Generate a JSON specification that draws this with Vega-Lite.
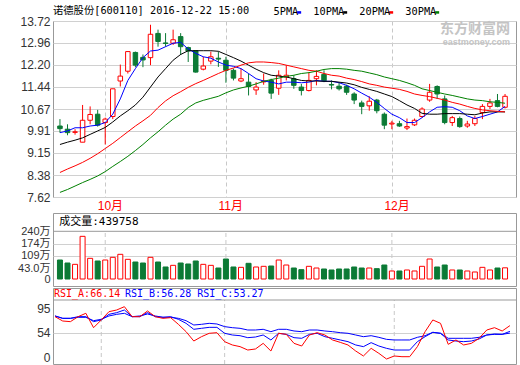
{
  "$schema": "https://vega.github.io/schema/vega-lite/v6.json",
  "background": "white",
  "padding": {"left": 17, "top": 5, "right": 0, "bottom": 0},
  "spacing": 0,
  "config": {
    "view": {"stroke": "#999999", "strokeWidth": 1},
    "axis": {"labelFont": "Liberation Sans, Noto Sans CJK SC", "labelFontSize": 12, "labelColor": "#333333", "ticks": false, "domain": false, "gridColor": "#d0d0d0", "labelPadding": 3, "labelFlush": false, "labelOverlap": false, "tickCount": 30, "title": null}
  },
  "datasets": {
    "k": [
      {"i":0,"d":"09-23","o":10.08,"h":10.32,"l":9.85,"c":9.99,"v":85.9,"m5":9.85,"m10":9.44,"m20":8.47,"m30":7.78,"ra":81.6,"rb":82.8,"rc":82.8},
      {"i":1,"d":"09-26","o":9.97,"h":10.14,"l":9.76,"c":9.85,"v":69.8,"m5":9.91,"m10":9.52,"m20":8.59,"m30":7.88,"ra":74.1,"rb":78.7,"rc":78.7},
      {"i":2,"d":"09-27","o":9.86,"h":9.97,"l":9.78,"c":9.88,"v":62.7,"m5":10.02,"m10":9.59,"m20":8.70,"m30":8.00,"ra":73.0,"rb":78.7,"rc":78.7},
      {"i":3,"d":"09-28","o":9.52,"h":10.81,"l":9.52,"c":10.28,"v":213,"m5":10.02,"m10":9.67,"m20":8.82,"m30":8.12,"ra":81.6,"rb":81.6,"rc":80.5},
      {"i":4,"d":"09-29","o":10.28,"h":10.76,"l":10.14,"c":10.48,"v":94.9,"m5":10.08,"m10":9.79,"m20":8.96,"m30":8.23,"ra":87.4,"rb":81.6,"rc":80.5},
      {"i":5,"d":"09-30","o":10.49,"h":10.64,"l":10.06,"c":10.11,"v":80.6,"m5":10.11,"m10":9.91,"m20":9.12,"m30":8.35,"ra":62.6,"rb":73.0,"rc":74.7},
      {"i":6,"d":"10-10","o":10.20,"h":10.37,"l":9.44,"c":10.32,"v":85.9,"m5":10.20,"m10":10.03,"m20":9.30,"m30":8.50,"ra":75.9,"rb":75.9,"rc":77.0},
      {"i":7,"d":"10-11","o":10.41,"h":11.37,"l":10.32,"c":11.37,"v":100.3,"m5":10.49,"m10":10.22,"m20":9.48,"m30":8.68,"ra":90.2,"rb":85.6,"rc":82.8},
      {"i":8,"d":"10-12","o":11.64,"h":12.21,"l":11.45,"c":11.81,"v":116.4,"m5":11.02,"m10":10.43,"m20":9.68,"m30":8.85,"ra":93.1,"rb":88.5,"rc":85.6},
      {"i":9,"d":"10-13","o":11.98,"h":12.68,"l":11.90,"c":12.66,"v":89.5,"m5":11.66,"m10":10.61,"m20":9.88,"m30":9.03,"ra":98.8,"rb":93.1,"rc":87.4},
      {"i":10,"d":"10-14","o":12.63,"h":12.66,"l":12.12,"c":12.19,"v":75.2,"m5":12.07,"m10":10.81,"m20":10.08,"m30":9.23,"ra":81.6,"rb":81.6,"rc":81.6},
      {"i":11,"d":"10-17","o":12.46,"h":12.56,"l":12.12,"c":12.37,"v":69.8,"m5":12.45,"m10":11.08,"m20":10.26,"m30":9.44,"ra":81.6,"rb":81.6,"rc":82.8},
      {"i":12,"d":"10-18","o":12.45,"h":13.59,"l":12.19,"c":13.26,"v":100.3,"m5":12.68,"m10":11.43,"m20":10.45,"m30":9.67,"ra":91.4,"rb":88.5,"rc":86.2},
      {"i":13,"d":"10-19","o":13.29,"h":13.42,"l":12.83,"c":13.01,"v":75.2,"m5":12.71,"m10":11.78,"m20":10.72,"m30":9.88,"ra":81.6,"rb":81.6,"rc":82.8},
      {"i":14,"d":"10-20","o":12.96,"h":13.30,"l":12.83,"c":12.94,"v":48.4,"m5":12.83,"m10":12.07,"m20":10.95,"m30":10.11,"ra":78.7,"rb":80.5,"rc":80.5},
      {"i":15,"d":"10-21","o":12.95,"h":13.42,"l":12.89,"c":13.07,"v":57.3,"m5":12.95,"m10":12.36,"m20":11.13,"m30":10.32,"ra":79.9,"rb":81.6,"rc":80.5},
      {"i":16,"d":"10-24","o":13.18,"h":13.30,"l":12.54,"c":12.83,"v":69.8,"m5":12.98,"m10":12.56,"m20":11.27,"m30":10.49,"ra":68.4,"rb":77.0,"rc":78.7},
      {"i":17,"d":"10-25","o":12.80,"h":12.83,"l":12.30,"c":12.68,"v":64.5,"m5":12.75,"m10":12.69,"m20":11.42,"m30":10.72,"ra":55.7,"rb":70.1,"rc":74.7},
      {"i":18,"d":"10-26","o":12.69,"h":12.71,"l":11.93,"c":11.95,"v":80.6,"m5":12.60,"m10":12.69,"m20":11.55,"m30":10.88,"ra":39.6,"rb":59.8,"rc":67.2},
      {"i":19,"d":"10-27","o":12.05,"h":12.48,"l":12.01,"c":12.16,"v":62.7,"m5":12.48,"m10":12.69,"m20":11.66,"m30":10.97,"ra":47.1,"rb":61.5,"rc":68.4},
      {"i":20,"d":"10-28","o":12.33,"h":12.66,"l":12.22,"c":12.48,"v":57.3,"m5":12.43,"m10":12.69,"m20":11.78,"m30":11.04,"ra":52.9,"rb":63.2,"rc":70.1},
      {"i":21,"d":"10-31","o":12.43,"h":12.66,"l":12.13,"c":12.40,"v":43,"m5":12.30,"m10":12.67,"m20":11.90,"m30":11.11,"ra":54.0,"rb":63.2,"rc":69.0},
      {"i":22,"d":"11-01","o":12.36,"h":12.48,"l":11.58,"c":12.01,"v":91.3,"m5":12.19,"m10":12.56,"m20":12.01,"m30":11.23,"ra":38.5,"rb":52.9,"rc":64.4},
      {"i":23,"d":"11-02","o":12.01,"h":12.07,"l":11.66,"c":11.74,"v":48.4,"m5":12.15,"m10":12.45,"m20":12.09,"m30":11.33,"ra":32.8,"rb":50.0,"rc":62.6},
      {"i":24,"d":"11-03","o":11.64,"h":12.07,"l":11.60,"c":11.72,"v":46.6,"m5":12.07,"m10":12.33,"m20":12.19,"m30":11.40,"ra":29.9,"rb":48.8,"rc":61.5},
      {"i":25,"d":"11-04","o":11.60,"h":11.90,"l":11.14,"c":11.45,"v":68.1,"m5":11.90,"m10":12.19,"m20":12.27,"m30":11.46,"ra":24.1,"rb":45.4,"rc":58.6},
      {"i":26,"d":"11-07","o":11.33,"h":11.60,"l":11.16,"c":11.43,"v":48.4,"m5":11.72,"m10":12.05,"m20":12.30,"m30":11.54,"ra":25.9,"rb":46.5,"rc":58.6},
      {"i":27,"d":"11-08","o":11.61,"h":11.90,"l":11.51,"c":11.64,"v":52.0,"m5":11.64,"m10":11.93,"m20":12.30,"m30":11.63,"ra":35.6,"rb":50.0,"rc":59.8},
      {"i":28,"d":"11-09","o":11.66,"h":11.72,"l":11.02,"c":11.22,"v":53.7,"m5":11.60,"m10":11.84,"m20":12.28,"m30":11.69,"ra":22.4,"rb":41.4,"rc":55.7},
      {"i":29,"d":"11-10","o":11.39,"h":12.01,"l":11.16,"c":11.84,"v":85.9,"m5":11.54,"m10":11.81,"m20":12.25,"m30":11.74,"ra":52.9,"rb":52.9,"rc":59.8},
      {"i":30,"d":"11-11","o":11.78,"h":12.19,"l":11.66,"c":11.84,"v":59.1,"m5":11.60,"m10":11.78,"m20":12.19,"m30":11.80,"ra":51.1,"rb":51.1,"rc":59.8},
      {"i":31,"d":"11-14","o":11.72,"h":11.84,"l":11.37,"c":11.49,"v":43,"m5":11.60,"m10":11.72,"m20":12.13,"m30":11.84,"ra":35.6,"rb":45.4,"rc":56.9},
      {"i":32,"d":"11-15","o":11.43,"h":11.54,"l":11.14,"c":11.31,"v":36.5,"m5":11.58,"m10":11.66,"m20":12.07,"m30":11.90,"ra":31.0,"rb":44.3,"rc":55.7},
      {"i":33,"d":"11-16","o":11.31,"h":11.95,"l":11.28,"c":11.66,"v":52.0,"m5":11.60,"m10":11.64,"m20":12.01,"m30":11.93,"ra":50.0,"rb":51.1,"rc":58.6},
      {"i":34,"d":"11-17","o":11.72,"h":12.01,"l":11.49,"c":11.80,"v":43,"m5":11.66,"m10":11.64,"m20":11.98,"m30":11.98,"ra":54.0,"rb":52.9,"rc":58.6},
      {"i":35,"d":"11-18","o":11.87,"h":12.01,"l":11.60,"c":11.65,"v":39.1,"m5":11.63,"m10":11.63,"m20":11.90,"m30":12.04,"ra":50.0,"rb":47.1,"rc":56.9},
      {"i":36,"d":"11-21","o":11.52,"h":11.66,"l":11.35,"c":11.50,"v":35.2,"m5":11.63,"m10":11.63,"m20":11.84,"m30":12.07,"ra":41.4,"rb":44.3,"rc":55.7},
      {"i":37,"d":"11-22","o":11.46,"h":11.60,"l":11.31,"c":11.37,"v":39.1,"m5":11.58,"m10":11.60,"m20":11.81,"m30":12.07,"ra":37.3,"rb":41.4,"rc":54.0},
      {"i":38,"d":"11-23","o":11.46,"h":11.51,"l":11.16,"c":11.25,"v":39.1,"m5":11.49,"m10":11.57,"m20":11.74,"m30":12.05,"ra":32.8,"rb":38.5,"rc":52.9},
      {"i":39,"d":"11-24","o":11.19,"h":11.25,"l":10.84,"c":10.98,"v":48.4,"m5":11.37,"m10":11.51,"m20":11.69,"m30":12.01,"ra":22.4,"rb":32.8,"rc":50.0},
      {"i":40,"d":"11-25","o":10.88,"h":10.96,"l":10.49,"c":10.76,"v":43,"m5":11.22,"m10":11.42,"m20":11.62,"m30":11.98,"ra":13.8,"rb":29.9,"rc":47.1},
      {"i":41,"d":"11-28","o":10.78,"h":11.11,"l":10.61,"c":10.94,"v":43,"m5":11.08,"m10":11.35,"m20":11.54,"m30":11.92,"ra":27.0,"rb":36.8,"rc":48.8},
      {"i":42,"d":"11-29","o":10.98,"h":11.02,"l":10.52,"c":10.61,"v":40.4,"m5":10.90,"m10":11.28,"m20":11.49,"m30":11.86,"ra":18.4,"rb":31.0,"rc":46.0},
      {"i":43,"d":"11-30","o":10.49,"h":10.55,"l":9.97,"c":10.11,"v":59.1,"m5":10.69,"m10":11.19,"m20":11.43,"m30":11.78,"ra":8.6,"rb":27.0,"rc":42.5},
      {"i":44,"d":"12-01","o":10.15,"h":10.26,"l":9.97,"c":10.18,"v":31.3,"m5":10.49,"m10":11.10,"m20":11.39,"m30":11.72,"ra":13.8,"rb":24.1,"rc":41.4},
      {"i":45,"d":"12-02","o":10.16,"h":10.26,"l":10.05,"c":10.08,"v":31.3,"m5":10.37,"m10":10.96,"m20":11.35,"m30":11.66,"ra":12.6,"rb":24.1,"rc":41.4},
      {"i":46,"d":"12-05","o":10.01,"h":10.34,"l":9.94,"c":10.06,"v":35.2,"m5":10.20,"m10":10.81,"m20":11.28,"m30":11.58,"ra":12.6,"rb":24.1,"rc":41.4},
      {"i":47,"d":"12-06","o":10.12,"h":10.34,"l":10.08,"c":10.28,"v":31.3,"m5":10.20,"m10":10.69,"m20":11.19,"m30":11.49,"ra":29.9,"rb":38.5,"rc":46.0},
      {"i":48,"d":"12-07","o":10.41,"h":10.73,"l":10.37,"c":10.67,"v":52.0,"m5":10.37,"m10":10.52,"m20":11.14,"m30":11.37,"ra":55.7,"rb":47.1,"rc":48.8},
      {"i":49,"d":"12-08","o":10.98,"h":11.54,"l":10.92,"c":11.25,"v":91.3,"m5":10.57,"m10":10.49,"m20":11.10,"m30":11.31,"ra":75.9,"rb":54.6,"rc":54.6},
      {"i":50,"d":"12-09","o":11.45,"h":11.49,"l":11.02,"c":11.19,"v":48.4,"m5":10.73,"m10":10.49,"m20":11.04,"m30":11.25,"ra":70.1,"rb":52.9,"rc":52.9},
      {"i":51,"d":"12-12","o":11.02,"h":11.14,"l":10.14,"c":10.20,"v":59.1,"m5":10.75,"m10":10.51,"m20":10.98,"m30":11.19,"ra":33.9,"rb":41.4,"rc":44.3},
      {"i":52,"d":"12-13","o":10.20,"h":10.43,"l":10.08,"c":10.37,"v":35.2,"m5":10.73,"m10":10.51,"m20":10.90,"m30":11.14,"ra":41.4,"rb":39.6,"rc":44.3},
      {"i":53,"d":"12-14","o":10.34,"h":10.41,"l":10.02,"c":10.06,"v":35.2,"m5":10.61,"m10":10.51,"m20":10.84,"m30":11.08,"ra":32.8,"rb":38.5,"rc":44.3},
      {"i":54,"d":"12-15","o":10.08,"h":10.26,"l":10.02,"c":10.15,"v":31.3,"m5":10.43,"m10":10.49,"m20":10.76,"m30":11.02,"ra":35.6,"rb":39.6,"rc":44.3},
      {"i":55,"d":"12-16","o":10.16,"h":10.43,"l":10.08,"c":10.34,"v":27.4,"m5":10.34,"m10":10.47,"m20":10.69,"m30":10.98,"ra":44.3,"rb":43.1,"rc":46.0},
      {"i":56,"d":"12-19","o":10.55,"h":10.84,"l":10.32,"c":10.76,"v":46.6,"m5":10.41,"m10":10.53,"m20":10.64,"m30":10.96,"ra":58.6,"rb":50.0,"rc":50.0},
      {"i":57,"d":"12-20","o":10.76,"h":11.02,"l":10.67,"c":10.88,"v":35.2,"m5":10.49,"m10":10.57,"m20":10.61,"m30":10.92,"ra":62.6,"rb":51.7,"rc":51.1},
      {"i":58,"d":"12-21","o":10.96,"h":11.19,"l":10.73,"c":10.76,"v":43,"m5":10.57,"m10":10.57,"m20":10.59,"m30":10.90,"ra":56.9,"rb":51.1,"rc":51.1},
      {"i":59,"d":"12-22","o":10.73,"h":11.19,"l":10.69,"c":11.11,"v":43.98,"m5":10.76,"m10":10.57,"m20":10.57,"m30":10.87,"ra":66.14,"rb":56.28,"rc":53.27}
    ],
    "months": [{"i":6,"m":"10月"},{"i":22,"m":"11月"},{"i":44,"m":"12月"}]
  },
  "vconcat": [
    {
      "width": 463, "height": 176,
      "title": {"text": "诺德股份[600110] 2016-12-22 15:00", "anchor": "start", "frame": "group", "font": "DejaVu Sans Mono, Noto Sans CJK SC", "fontSize": 10.3, "fontWeight": "normal", "color": "#000000", "offset": -1.5},
      "layer": [
        {
          "data": {"name": "k"},
          "mark": {"type": "rule", "strokeWidth": 1},
          "encoding": {
            "x": {"field": "i", "type": "quantitative", "scale": {"domain": [-0.26, 59.79], "nice": false, "zero": false},
                  "axis": {"values": [6, 22, 44], "labelExpr": "datum.value == 6 ? '10月' : datum.value == 22 ? '11月' : '12月'", "labelColor": "#ff0000", "labelAlign": "left", "labelOffset": -8, "labelPadding": 3, "labelOverlap": false, "tickCount": 30, "grid": true, "gridDash": [4, 3], "gridColor": "#c8c8c8"}},
            "y": {"field": "l", "type": "quantitative", "scale": {"domain": [7.62, 13.72], "nice": false, "zero": false},
                  "axis": {"values": [7.62, 8.38, 9.15, 9.91, 10.67, 11.44, 12.20, 12.96, 13.72], "format": ".2f", "grid": true, "labelOverlap": false, "tickCount": 30}},
            "y2": {"field": "h"},
            "color": {"condition": {"test": "datum.c >= datum.o", "value": "#ff0000"}, "value": "#0b7a35"}
          }
        },
        {
          "data": {"name": "k"},
          "mark": {"type": "bar", "size": 4.5, "strokeWidth": 1},
          "encoding": {
            "x": {"field": "i", "type": "quantitative"},
            "y": {"field": "o", "type": "quantitative"},
            "y2": {"field": "c"},
            "fill": {"condition": {"test": "datum.c >= datum.o", "value": "#ffffff"}, "value": "#0b7a35"},
            "stroke": {"condition": {"test": "datum.c >= datum.o", "value": "#ff0000"}, "value": "#0b7a35"}
          }
        },
        {
          "data": {"name": "k"},
          "transform": [{"fold": ["m5", "m10", "m20", "m30"], "as": ["key", "val"]}],
          "mark": {"type": "line", "strokeWidth": 1},
          "encoding": {
            "x": {"field": "i", "type": "quantitative"},
            "y": {"field": "val", "type": "quantitative"},
            "color": {"field": "key", "type": "nominal",
                      "scale": {"domain": ["m5", "m10", "m20", "m30"], "range": ["#0000ff", "#000000", "#ff0000", "#008000"]},
                      "legend": {"orient": "none", "legendX": 241, "legendY": -14, "direction": "horizontal", "title": null,
                                 "labelExpr": "datum.label == 'm5' ? '5PMA' : datum.label == 'm10' ? '10PMA' : datum.label == 'm20' ? '20PMA' : '30PMA'",
                                 "labelFont": "DejaVu Sans Mono", "labelFontSize": 10.3, "labelColor": "#000000",
                                 "labelAlign": "right", "labelOffset": -6, "symbolType": "M-1,0H1", "symbolSize": 16, "symbolStrokeWidth": 2.5,
                                 "columnPadding": 6, "padding": 0}}
          }
        },
        {
          "data": {"values": [{"t": "东方财富网", "s": "eastmoney.com"}]},
          "layer": [
            {"mark": {"type": "text", "align": "right", "baseline": "middle", "font": "Noto Sans CJK SC", "fontSize": 14, "fontWeight": "bold", "color": "#c4c4c4"},
             "encoding": {"x": {"datum": 59.66, "type": "quantitative"}, "y": {"datum": 13.46, "type": "quantitative"}, "text": {"field": "t"}}},
            {"mark": {"type": "text", "align": "right", "baseline": "middle", "font": "Liberation Sans", "fontSize": 9, "fontWeight": "bold", "color": "#c4c4c4"},
             "encoding": {"x": {"datum": 59.66, "type": "quantitative"}, "y": {"datum": 12.99, "type": "quantitative"}, "text": {"field": "s"}}}
          ]
        }
      ]
    },
    {
      "width": 463, "height": 73,
      "layer": [
        {
          "data": {"name": "months"},
          "mark": {"type": "rule", "strokeDash": [4, 3], "color": "#c8c8c8"},
          "encoding": {
            "x": {"field": "i", "type": "quantitative", "scale": {"domain": [-0.26, 59.79], "nice": false, "zero": false}, "axis": null},
            "y": {"datum": 0, "type": "quantitative", "scale": {"domain": [0, 43, 240], "range": [66, 55, 18.3], "nice": false, "zero": false},
                  "axis": {"values": [0, 43, 109, 174, 240], "labelFontSize": 11, "labelExpr": "datum.value == 0 ? '0' : datum.value == 43 ? '43.0万' : datum.value + '万'", "labelOverlap": false, "tickCount": 30,
                           "grid": true, "gridColor": {"condition": {"test": "datum.value == 109 || datum.value == 174", "value": "#d0d0d0"}, "value": "transparent"}}},
            "y2": {"datum": 240}
          }
        },
        {
          "data": {"name": "k"},
          "mark": {"type": "bar", "size": 5, "strokeWidth": 1},
          "encoding": {
            "x": {"field": "i", "type": "quantitative"},
            "y": {"field": "v", "type": "quantitative"},
            "y2": {"datum": 0},
            "fill": {"condition": {"test": "datum.c >= datum.o", "value": "#ffffff"}, "value": "#0b7a35"},
            "stroke": {"condition": {"test": "datum.c >= datum.o", "value": "#ff0000"}, "value": "#0b7a35"}
          }
        },
        {
          "data": {"values": [{"t": "成交量:439758"}]},
          "layer": [
            {"mark": {"type": "rule", "color": "#999999"}, "encoding": {"y": {"datum": 240, "type": "quantitative"}}},
            {"mark": {"type": "text", "align": "left", "baseline": "middle", "font": "DejaVu Sans Mono, Noto Sans CJK SC", "fontSize": 11, "color": "#000000"},
             "encoding": {"x": {"datum": -0.1, "type": "quantitative"}, "y": {"datum": 290, "type": "quantitative"}, "text": {"field": "t"}}}
          ]
        }
      ]
    },
    {
      "width": 463, "height": 76,
      "layer": [
        {
          "data": {"name": "months"},
          "mark": {"type": "rule", "strokeDash": [4, 3], "color": "#c8c8c8"},
          "encoding": {
            "x": {"field": "i", "type": "quantitative", "scale": {"domain": [-0.26, 59.79], "nice": false, "zero": false}, "axis": null},
            "y": {"datum": 0, "type": "quantitative", "scale": {"domain": [0, 131], "nice": false, "zero": false},
                  "axis": {"values": [0, 54, 95], "labelFlush": true, "labelOverlap": false, "tickCount": 30, "grid": true, "gridColor": {"condition": {"test": "datum.value == 54", "value": "#d0d0d0"}, "value": "transparent"}}},
            "y2": {"datum": 110.3}
          }
        },
        {"data": {"name": "k"}, "mark": {"type": "line", "strokeWidth": 1, "color": "#0000ff"}, "encoding": {"x": {"field": "i", "type": "quantitative"}, "y": {"field": "rc", "type": "quantitative"}}},
        {"data": {"name": "k"}, "mark": {"type": "line", "strokeWidth": 1, "color": "#0000ff"}, "encoding": {"x": {"field": "i", "type": "quantitative"}, "y": {"field": "rb", "type": "quantitative"}}},
        {"data": {"name": "k"}, "mark": {"type": "line", "strokeWidth": 1, "color": "#ff0000"}, "encoding": {"x": {"field": "i", "type": "quantitative"}, "y": {"field": "ra", "type": "quantitative"}}},
        {
          "data": {"values": [{"a": "RSI_A:66.14", "b": "RSI_B:56.28 RSI_C:53.27"}]},
          "layer": [
            {"mark": {"type": "rule", "color": "#999999"}, "encoding": {"y": {"datum": 110.3, "type": "quantitative"}}},
            {"mark": {"type": "text", "align": "left", "baseline": "middle", "font": "DejaVu Sans Mono", "fontSize": 10, "color": "#ff0000"},
             "encoding": {"x": {"datum": -0.13, "type": "quantitative"}, "y": {"datum": 120.7, "type": "quantitative"}, "text": {"field": "a"}}},
            {"mark": {"type": "text", "align": "left", "baseline": "middle", "font": "DejaVu Sans Mono", "fontSize": 10, "color": "#0000ff"},
             "encoding": {"x": {"datum": 9.08, "type": "quantitative"}, "y": {"datum": 120.7, "type": "quantitative"}, "text": {"field": "b"}}}
          ]
        }
      ]
    }
  ]
}
